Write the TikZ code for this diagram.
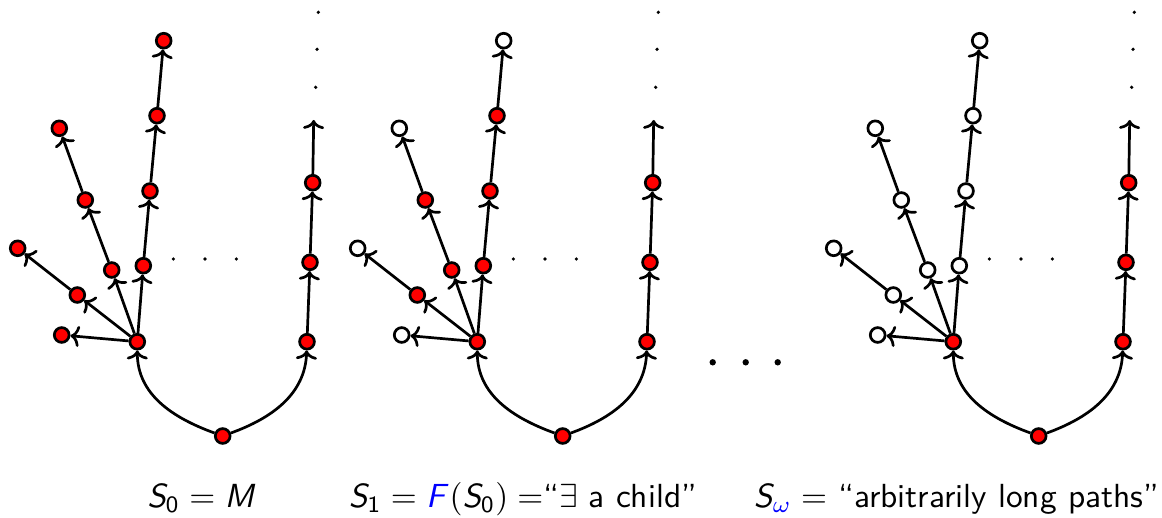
\RequirePackage{fix-cm}
\documentclass[tikz,border=0pt]{standalone}
\usetikzlibrary{arrows.meta}
\DeclareMathAlphabet{\mathsfsl}{OT1}{cmss}{m}{sl}
\tikzset{
  vx/.style={circle, draw=black, line width=1.35pt, minimum size=7.4pt, inner sep=0pt},
  arr/.style={line width=1.35pt, -{Computer Modern Rightarrow[length=4.5pt,width=10.5pt]}},
  sdot/.style={circle, fill=black, minimum size=1.8pt, inner sep=0pt},
  bdot/.style={circle, fill=black, minimum size=3.2pt, inner sep=0pt},
  lab/.style={inner sep=0pt, anchor=base west, scale=1.67, transform shape, font=\sffamily\fontsize{10}{12}\selectfont}
}
\begin{document}
\begin{tikzpicture}[x=0.5pt,y=-0.5pt]
\useasboundingbox (0,0) rectangle (1162,518);
\foreach \p/\ox/\lf/\inn in {a/0/red/red, b/340/white/red, c/816/white/white} {
  \begin{scope}[shift={(\ox,0)}]
    \node[vx, fill=red] (root\p) at (222.7,436) {};
    \node[vx, fill=red] (L\p) at (137.3,341.7) {};
    \node[vx, fill=red] (Ra\p) at (307,341.7) {};
    \node[vx, fill=red] (Rb\p) at (310,262.3) {};
    \node[vx, fill=red] (Rc\p) at (312.7,182.7) {};
    \coordinate (Rt\p) at (313.7,120);
    \node[vx, fill=\lf] (ca\p) at (61.7,335) {};
    \node[vx, fill=\inn] (cba\p) at (77.3,295) {};
    \node[vx, fill=\lf] (cbb\p) at (17.7,248.3) {};
    \node[vx, fill=\inn] (cca\p) at (111.7,270) {};
    \node[vx, fill=\inn] (ccb\p) at (85.3,200) {};
    \node[vx, fill=\lf] (ccc\p) at (59.3,128.3) {};
    \node[vx, fill=\inn] (cda\p) at (143.3,265.7) {};
    \node[vx, fill=\inn] (cdb\p) at (150,191) {};
    \node[vx, fill=\inn] (cdc\p) at (157,115.7) {};
    \node[vx, fill=\lf] (cdd\p) at (163.7,40.7) {};
    \draw[arr] (root\p) to[out=160,in=-90] (L\p);
    \draw[arr] (root\p) to[out=20,in=-92] (Ra\p);
    \draw[arr] (Ra\p) -- (Rb\p);
    \draw[arr] (Rb\p) -- (Rc\p);
    \draw[arr] (Rc\p) -- (Rt\p);
    \draw[arr] (L\p) -- (ca\p);
    \draw[arr] (L\p) -- (cba\p);
    \draw[arr] (cba\p) -- (cbb\p);
    \draw[arr] (L\p) -- (cca\p);
    \draw[arr] (cca\p) -- (ccb\p);
    \draw[arr] (ccb\p) -- (ccc\p);
    \draw[arr] (L\p) -- (cda\p);
    \draw[arr] (cda\p) -- (cdb\p);
    \draw[arr] (cdb\p) -- (cdc\p);
    \draw[arr] (cdc\p) -- (cdd\p);
    \node[sdot] (va\p) at (315.7,87.3) {};
    \node[sdot] (vb\p) at (317,49.3) {};
    \node[sdot] (vc\p) at (318.3,12.3) {};
    \node[sdot] (ha\p) at (173.3,259) {};
    \node[sdot] (hb\p) at (205,259) {};
    \node[sdot] (hc\p) at (236.3,259) {};
  \end{scope}
}
\node[bdot] (ma) at (712.7,362.3) {};
\node[bdot] (mb) at (745.7,362.3) {};
\node[bdot] (mc) at (777.7,362.3) {};
\node[lab] (t0) at (146.7,507) {$\mathsfsl{S}_{\mathsf{0}} = \mathsfsl{M}$};
\node[lab] (t1) at (348.3,507) {$\mathsfsl{S}_{\mathsf{1}} = \textcolor{blue}{\mathsfsl{F}}\mathsf{(}\mathsfsl{S}_{\mathsf{0}}\mathsf{)} =$“$\exists$ a child”};
\node[lab] (t2) at (753.3,507) {$\mathsfsl{S}_{\textcolor{blue}{\omega}} = $ “arbitrarily long paths”};
\end{tikzpicture}
\end{document}
